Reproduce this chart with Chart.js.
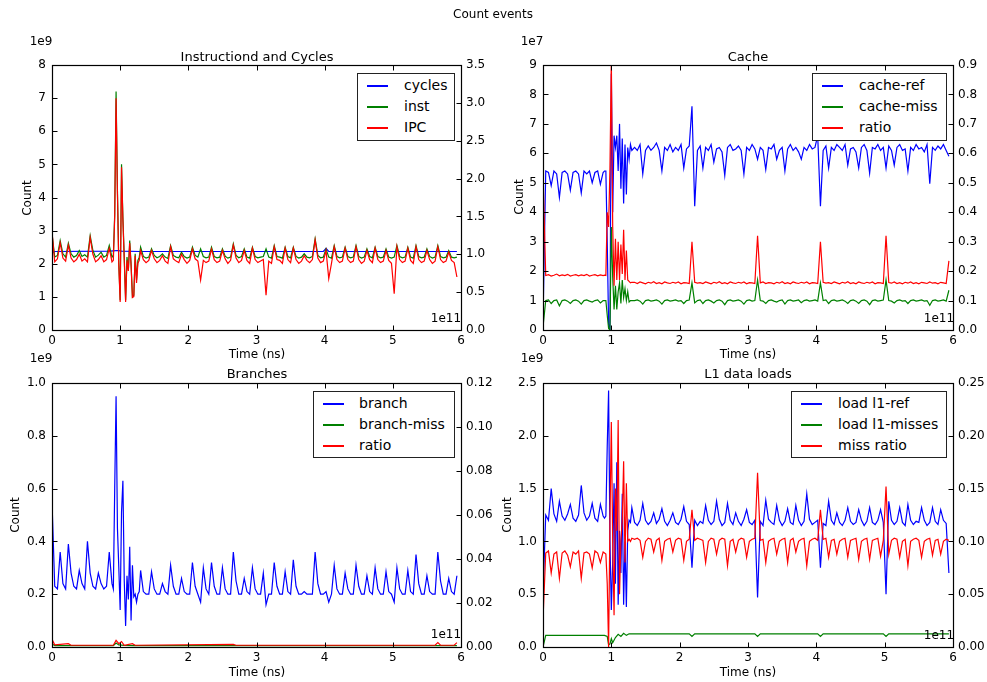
<!DOCTYPE html>
<html>
<head>
<meta charset="utf-8">
<title>Count events</title>
<script src="https://cdn.jsdelivr.net/npm/chart.js@4.4.1/dist/chart.umd.min.js"></script>
<style>
  body { margin: 0; background: #fff; font-family: "DejaVu Sans", sans-serif; color: #000; }
  #page { position: relative; width: 987px; height: 682px; overflow: hidden; }
  canvas { position: absolute; left: 0; top: 0; }
  .lbl { position: absolute; font-size: 12px; line-height: 1; white-space: nowrap; transform: translate(-50%, -50%); }
  .lbl.ttl { font-size: 13px; }
  .lbl.ylab { transform: translate(-50%, -50%) rotate(-90deg); }
  .legend { position: absolute; box-sizing: border-box; border: 1px solid #222; background: #fff; }
  .legend .sw { position: absolute; height: 2px; }
  .legend .tx { position: absolute; font-size: 14px; line-height: 1; white-space: nowrap; }
</style>
</head>
<body>
<div id="page">
  <canvas id="cInst" width="987" height="682"></canvas>
  <canvas id="cCache" width="987" height="682"></canvas>
  <canvas id="cBranch" width="987" height="682"></canvas>
  <canvas id="cL1" width="987" height="682"></canvas>
</div>
<script>
/* time axis, units of 1e11 ns: coarse, dense around the start-up burst, then coarse */
const T = [
  0,0.04,0.08,0.12,0.16,0.2,0.24,0.28,0.32,0.36,0.4,0.44,0.48,0.52,0.56,0.6,0.64,0.68,0.72,0.76,0.8,0.84,0.88,
  0.9,0.92,0.94,0.96,0.98,1,1.02,1.04,1.06,1.08,1.1,1.12,1.14,1.16,1.18,1.2,1.22,1.24,1.26,1.28,1.3,
  1.34,1.38,1.42,1.46,1.5,1.54,1.58,1.62,1.66,1.7,1.74,1.78,1.82,1.86,1.9,1.94,1.98,2.02,2.06,2.1,2.14,2.18,2.22,2.26,2.3,
  2.34,2.38,2.42,2.46,2.5,2.54,2.58,2.62,2.66,2.7,2.74,2.78,2.82,2.86,2.9,2.94,2.98,3.02,3.06,3.1,3.14,3.18,3.22,3.26,3.3,
  3.34,3.38,3.42,3.46,3.5,3.54,3.58,3.62,3.66,3.7,3.74,3.78,3.82,3.86,3.9,3.94,3.98,4.02,4.06,4.1,4.14,4.18,4.22,4.26,4.3,
  4.34,4.38,4.42,4.46,4.5,4.54,4.58,4.62,4.66,4.7,4.74,4.78,4.82,4.86,4.9,4.94,4.98,5.02,5.06,5.1,5.14,5.18,5.22,5.26,5.3,
  5.34,5.38,5.42,5.46,5.5,5.54,5.58,5.62,5.66,5.7,5.74,5.78,5.82,5.86,5.9,5.94
];

// --- Instructiond and Cycles (counts 1e9, IPC on right) ---
const cycT = [0,0.04,0.84,0.9,0.96,1.02,1.3,3.98,4.02,4.06,5.94];
const cycles = [2.33,2.37,2.38,2.39,2.4,2.38,2.37,2.37,2.46,2.37,2.37];
const inst = [
  2.9,2.2,2.25,2.7,2.3,2.2,2.62,2.3,2.2,2.25,2.4,2.22,2.27,2.2,2.85,2.4,2.2,2.26,2.35,2.2,2.25,2.55,2.2,
  2.25,3.5,7.2,4.2,2.0,0.9,5.0,3.4,2.2,0.9,2.2,1.8,2.7,2.0,1.0,1.05,2.3,1.5,2.1,2.2,2.5,
  2.22,2.17,2.2,2.45,2.25,2.18,2.22,2.3,2.2,2.16,2.55,2.25,2.2,2.18,2.35,2.22,2.17,2.2,2.5,2.25,2.2,2.45,2.22,2.18,2.2,
  2.5,2.22,2.18,2.2,2.45,2.23,2.17,2.2,2.6,2.25,2.18,2.22,2.45,2.2,2.17,2.5,2.22,2.18,2.2,2.22,2.45,2.2,2.17,2.55,2.22,
  2.2,2.17,2.5,2.22,2.18,2.5,2.22,2.17,2.2,2.3,2.2,2.18,2.22,2.75,2.25,2.18,2.2,2.45,2.2,2.17,2.55,2.22,2.18,2.2,2.5,
  2.22,2.18,2.2,2.55,2.22,2.17,2.2,2.45,2.22,2.18,2.5,2.22,2.18,2.2,2.45,2.2,2.17,2.2,2.55,2.22,2.18,2.2,2.5,2.2,2.17,
  2.55,2.22,2.18,2.2,2.45,2.22,2.17,2.2,2.55,2.22,2.18,2.2,2.4,2.2,2.18,2.2
];
const ipc = [
  1.3,0.9,0.94,1.15,0.95,0.91,1.12,0.95,0.9,0.93,1.0,0.91,0.94,0.9,1.22,1.0,0.9,0.93,0.98,0.9,0.93,1.08,0.9,
  0.92,1.5,3.06,1.8,0.85,0.37,2.15,1.45,0.92,0.37,0.92,0.78,1.15,0.85,0.43,0.44,0.98,0.62,0.88,0.92,1.05,
  0.93,0.89,0.92,1.05,0.94,0.89,0.92,0.98,0.91,0.88,1.1,0.94,0.91,0.89,1.0,0.93,0.88,0.92,1.07,0.94,0.91,0.66,0.92,0.89,0.91,
  1.07,0.93,0.89,0.91,1.05,0.94,0.88,0.92,1.12,0.95,0.89,0.92,1.05,0.92,0.88,1.08,0.93,0.89,0.91,0.93,0.46,0.91,0.88,1.1,0.93,
  0.92,0.88,1.08,0.93,0.89,1.08,0.93,0.88,0.91,0.98,0.92,0.89,0.93,1.19,0.95,0.89,0.91,1.05,0.68,0.88,1.1,0.93,0.89,0.91,1.08,
  0.93,0.89,0.91,1.1,0.93,0.88,0.91,1.05,0.93,0.89,1.08,0.93,0.89,0.91,1.05,0.92,0.88,0.48,1.1,0.93,0.89,0.91,1.08,0.92,0.88,
  1.1,0.93,0.89,0.91,1.05,0.93,0.88,0.91,1.1,0.93,0.89,0.91,1.03,0.92,0.89,0.7
];

// --- Cache (counts 1e7, ratio on right) ---
const cacheRef = [
  0.3,5.4,5.35,4.9,5.4,5.3,4.5,5.35,5.4,5.3,4.75,5.35,5.4,5.3,4.65,5.4,5.3,5.4,5.0,5.35,5.4,4.95,5.35,
  5.4,5.4,3.0,0.2,0.0,8.7,4.0,6.6,6.2,6.6,5.4,7.0,4.8,6.5,4.3,6.3,4.6,6.2,5.8,6.3,6.1,
  6.2,6.1,6.3,5.3,6.1,6.25,6.1,6.2,6.35,6.1,5.4,6.2,6.1,6.3,6.05,6.2,6.1,6.3,5.5,6.15,6.25,7.6,4.2,6.1,6.25,
  5.5,6.2,6.1,6.3,5.7,6.15,6.2,6.05,5.25,6.2,6.3,6.1,6.15,6.25,6.1,5.3,6.2,6.1,6.3,6.15,5.8,6.2,6.1,5.45,6.2,
  6.15,6.3,5.8,6.1,6.2,5.4,6.15,6.3,6.1,6.2,6.05,5.8,6.2,6.1,6.3,6.15,6.2,6.6,4.2,6.1,6.25,5.5,6.2,6.1,6.3,
  6.2,6.1,6.3,5.6,6.15,6.2,6.05,5.5,6.2,6.3,6.1,5.33,6.2,6.15,6.3,6.1,6.2,5.5,6.25,6.1,5.6,6.2,6.3,6.1,6.15,
  5.4,6.2,6.1,6.3,6.15,6.2,6.05,6.3,4.97,6.2,6.1,6.25,6.15,6.3,6.1,5.9
];
const cacheMiss = [
  0.1,1.0,1.02,0.9,1.0,1.02,0.82,1.0,1.02,0.98,0.9,1.0,1.02,0.98,0.88,1.0,1.02,0.98,0.95,1.0,1.02,0.92,1.0,
  1.0,1.0,0.5,0.05,0.0,3.5,1.8,0.7,1.5,0.7,1.3,1.6,0.9,1.7,1.1,1.4,1.0,1.3,0.95,1.0,1.0,
  1.0,1.02,0.98,0.88,1.0,1.02,0.98,1.0,1.02,0.98,0.88,1.0,1.02,0.98,1.0,1.02,0.98,1.0,0.9,1.0,1.02,1.6,0.92,1.0,1.02,
  0.9,1.0,1.02,0.98,0.92,1.0,1.02,0.98,0.86,1.0,1.02,0.98,1.0,1.02,0.98,0.88,1.0,1.02,0.98,1.0,1.7,1.0,0.98,0.9,1.0,
  1.02,0.98,0.95,1.0,1.02,0.88,1.0,1.02,0.98,1.0,1.02,0.93,1.0,1.02,0.98,1.0,1.02,0.98,1.6,1.0,1.02,0.9,1.0,1.02,0.98,
  1.0,1.02,0.98,0.9,1.0,1.02,0.98,0.9,1.0,1.02,0.98,0.86,1.0,1.02,0.98,1.0,1.02,1.7,1.0,0.98,0.92,1.0,1.02,0.98,1.0,
  0.9,1.0,1.02,0.98,1.0,1.02,0.98,1.0,0.84,1.0,1.02,0.98,1.0,1.02,0.98,1.35
];
const cacheRatio = [
  0.53,0.185,0.188,0.183,0.186,0.19,0.184,0.187,0.185,0.189,0.183,0.186,0.188,0.184,0.187,0.185,0.189,0.183,0.186,0.188,0.184,0.187,0.185,
  0.186,0.185,0.4,0.35,0.55,0.92,0.35,0.15,0.31,0.17,0.3,0.17,0.29,0.19,0.34,0.17,0.27,0.17,0.165,0.16,0.162,
  0.162,0.158,0.163,0.16,0.157,0.162,0.159,0.164,0.158,0.161,0.157,0.163,0.16,0.158,0.162,0.159,0.163,0.157,0.161,0.16,0.158,0.3,0.162,0.159,0.161,
  0.158,0.163,0.16,0.157,0.162,0.159,0.164,0.158,0.161,0.157,0.163,0.16,0.158,0.162,0.159,0.163,0.157,0.161,0.16,0.158,0.32,0.16,0.163,0.158,0.161,
  0.16,0.157,0.162,0.159,0.164,0.158,0.161,0.157,0.163,0.16,0.158,0.162,0.159,0.163,0.157,0.161,0.16,0.158,0.3,0.162,0.159,0.161,0.158,0.163,0.16,
  0.157,0.162,0.159,0.164,0.158,0.161,0.157,0.163,0.16,0.158,0.162,0.159,0.163,0.157,0.161,0.16,0.158,0.32,0.161,0.159,0.163,0.158,0.161,0.157,0.162,
  0.159,0.163,0.158,0.161,0.157,0.162,0.16,0.158,0.163,0.159,0.161,0.157,0.162,0.16,0.158,0.235
];

// --- Branches (counts 1e9, ratio on right) ---
const branch = [
  0.55,0.23,0.22,0.36,0.24,0.22,0.39,0.28,0.23,0.22,0.29,0.24,0.22,0.4,0.28,0.23,0.22,0.28,0.24,0.22,0.23,0.36,0.24,
  0.22,0.6,0.95,0.45,0.3,0.14,0.51,0.63,0.25,0.08,0.27,0.18,0.38,0.1,0.31,0.19,0.2,0.17,0.2,0.21,0.29,
  0.21,0.2,0.2,0.285,0.22,0.2,0.2,0.24,0.21,0.2,0.31,0.23,0.2,0.2,0.26,0.21,0.2,0.2,0.32,0.23,0.2,0.17,0.3,0.22,0.2,
  0.32,0.23,0.2,0.2,0.3,0.22,0.2,0.2,0.36,0.25,0.2,0.2,0.26,0.21,0.2,0.3,0.22,0.2,0.2,0.28,0.16,0.2,0.2,0.32,0.23,
  0.2,0.2,0.285,0.21,0.2,0.33,0.23,0.2,0.2,0.21,0.2,0.2,0.2,0.36,0.24,0.2,0.2,0.21,0.17,0.2,0.31,0.22,0.2,0.2,0.28,
  0.22,0.2,0.2,0.31,0.23,0.2,0.2,0.27,0.21,0.2,0.3,0.22,0.2,0.2,0.285,0.21,0.2,0.17,0.3,0.22,0.2,0.2,0.29,0.21,0.2,
  0.35,0.24,0.2,0.2,0.27,0.21,0.2,0.2,0.36,0.25,0.2,0.2,0.26,0.21,0.2,0.27
];
const branchMissT = [0,0.04,0.9,0.94,0.98,1.06,1.2,5.94];
const branchMiss = [0.012,0.005,0.005,0.015,0.008,0.006,0.005,0.005];
const branchRatioT = [0,0.04,0.24,0.28,0.9,0.94,0.98,1.02,1.06,1.18,1.22,2.66,2.7,5.62,5.66,5.7,5.9,5.94];
const branchRatio = [0.0035,0.001,0.0015,0.0008,0.0008,0.003,0.0015,0.0025,0.0008,0.0015,0.0008,0.0012,0.0008,0.0008,0.002,0.0008,0.0008,0.002];

// --- L1 data loads (counts 1e9, miss ratio on right) ---
const l1Ref = [
  0.5,1.25,1.2,1.5,1.26,1.19,1.38,1.24,1.2,1.26,1.35,1.22,1.19,1.25,1.53,1.27,1.2,1.24,1.36,1.22,1.19,1.35,1.24,
  1.22,1.24,1.9,2.43,1.0,0.35,0.8,1.55,0.6,1.75,0.4,1.1,0.7,1.45,0.4,1.0,0.38,1.1,1.2,1.18,1.32,
  1.18,1.15,1.2,1.36,1.2,1.16,1.19,1.27,1.17,1.21,1.31,1.19,1.15,1.2,1.27,1.18,1.16,1.21,1.33,1.19,1.16,0.75,1.2,1.15,1.19,
  1.17,1.34,1.2,1.16,1.19,1.38,1.21,1.15,1.18,1.36,1.2,1.16,1.27,1.19,1.15,1.21,1.3,1.18,1.16,1.2,0.47,1.19,1.15,1.39,1.21,
  1.18,1.16,1.34,1.2,1.15,1.19,1.31,1.18,1.16,1.34,1.2,1.15,1.19,1.45,1.21,1.16,1.18,1.2,0.75,1.17,1.15,1.38,1.2,1.16,1.27,
  1.18,1.15,1.2,1.32,1.19,1.16,1.18,1.3,1.2,1.15,1.19,1.32,1.18,1.16,1.2,1.3,1.18,0.5,1.38,1.2,1.16,1.19,1.32,1.18,1.15,
  1.35,1.2,1.16,1.19,1.18,1.32,1.2,1.15,1.18,1.32,1.19,1.16,1.3,1.2,1.17,0.7
];
const l1MissT = [0,0.04,0.9,0.94,0.96,0.98,1,1.02,1.06,1.1,1.14,1.18,1.22,1.26,1.5,2.14,2.18,2.22,3.1,3.14,3.18,4.02,4.06,4.1,4.98,5.02,5.06,5.94];
const l1Miss = [0,0.11,0.11,0.1,0.02,0.03,0.08,0.04,0.09,0.12,0.1,0.13,0.11,0.125,0.125,0.125,0.1,0.125,0.125,0.1,0.125,0.125,0.1,0.125,0.125,0.1,0.125,0.125];
const l1Ratio = [
  0.026,0.089,0.091,0.07,0.088,0.09,0.065,0.089,0.091,0.087,0.076,0.09,0.088,0.091,0.065,0.089,0.09,0.088,0.075,0.091,0.089,0.08,0.09,
  0.089,0.088,0.06,0.0,0.12,0.213,0.1,0.03,0.15,0.11,0.215,0.05,0.1,0.12,0.176,0.08,0.155,0.1,0.102,0.1,0.103,
  0.102,0.103,0.101,0.085,0.1,0.103,0.102,0.09,0.101,0.103,0.082,0.1,0.102,0.103,0.09,0.101,0.103,0.102,0.082,0.1,0.102,0.13,0.101,0.103,0.102,
  0.101,0.08,0.1,0.103,0.102,0.088,0.101,0.103,0.102,0.077,0.1,0.102,0.09,0.101,0.103,0.102,0.085,0.1,0.102,0.103,0.165,0.101,0.102,0.08,0.1,
  0.102,0.103,0.088,0.1,0.102,0.103,0.08,0.101,0.103,0.09,0.1,0.102,0.103,0.077,0.1,0.102,0.103,0.101,0.13,0.102,0.103,0.085,0.101,0.102,0.088,
  0.1,0.102,0.103,0.085,0.101,0.102,0.103,0.083,0.1,0.102,0.103,0.083,0.101,0.102,0.103,0.086,0.101,0.152,0.088,0.101,0.103,0.102,0.085,0.1,0.102,
  0.077,0.1,0.102,0.103,0.101,0.085,0.1,0.102,0.103,0.087,0.101,0.102,0.088,0.1,0.102,0.101
];

const BLUE = "#0000ff", GREEN = "#008000", RED = "#ff0000";
const FONT = { family: "DejaVu Sans", size: 12 };

// matplotlib-style frame with inward ticks on all four sides
const frameTicks = {
  id: "frameTicks",
  afterDraw(chart) {
    const { ctx, chartArea: a, scales } = chart;
    const L = Math.round(a.left) + 0.5, R = Math.round(a.right) + 0.5;
    const Tp = Math.round(a.top) + 0.5, B = Math.round(a.bottom) + 0.5;
    ctx.save();
    ctx.strokeStyle = "#000";
    ctx.lineWidth = 1.2;
    ctx.strokeRect(L, Tp, R - L, B - Tp);
    ctx.lineWidth = 1;
    ctx.beginPath();
    scales.x.ticks.forEach(t => {
      const px = Math.round(scales.x.getPixelForValue(t.value)) + 0.5;
      ctx.moveTo(px, B); ctx.lineTo(px, B - 5);
      ctx.moveTo(px, Tp); ctx.lineTo(px, Tp + 5);
    });
    scales.y.ticks.forEach(t => {
      const py = Math.round(scales.y.getPixelForValue(t.value)) + 0.5;
      ctx.moveTo(L, py); ctx.lineTo(L + 5, py);
    });
    scales.y2.ticks.forEach(t => {
      const py = Math.round(scales.y2.getPixelForValue(t.value)) + 0.5;
      ctx.moveTo(R, py); ctx.lineTo(R - 5, py);
    });
    ctx.stroke();
    ctx.restore();
  }
};

function pts(ts, vs) { return ts.map((t, i) => ({ x: t, y: vs[i] })); }

function makeChart(id, box, series, left, right) {
  new Chart(document.getElementById(id), {
    type: "line",
    data: {
      datasets: series.map((s, i) => ({
        label: s.label,
        data: pts(s.t, s.v),
        yAxisID: s.axis,
        borderColor: s.color,
        borderWidth: 1.2,
        pointRadius: 0,
        tension: 0,
        fill: false,
        order: series.length - i
      }))
    },
    options: {
      responsive: false,
      animation: false,
      devicePixelRatio: 1,
      events: [],
      layout: { padding: { left: box.l - 40, right: 987 - box.r - 40, top: box.t, bottom: 682 - box.b - 20 } },
      plugins: { legend: { display: false }, tooltip: { enabled: false } },
      scales: {
        x: {
          type: "linear", min: 0, max: 6,
          ticks: { stepSize: 1, padding: 4, color: "#000", font: FONT, maxRotation: 0, autoSkip: false },
          grid: { display: false, drawTicks: false },
          border: { display: false },
          afterFit: s => { s.height = 20; }
        },
        y: {
          position: "left", min: 0, max: left.max,
          ticks: { stepSize: left.step, padding: 6, color: "#000", font: FONT, callback: v => v.toFixed(left.dec) },
          grid: { display: false, drawTicks: false },
          border: { display: false },
          afterFit: s => { s.width = 40; }
        },
        y2: {
          position: "right", min: 0, max: right.max,
          ticks: { stepSize: right.step, padding: 5, color: "#000", font: FONT, callback: v => v.toFixed(right.dec) },
          grid: { display: false, drawTicks: false },
          border: { display: false },
          afterFit: s => { s.width = 40; }
        }
      }
    },
    plugins: [frameTicks]
  });
}

makeChart("cInst", { l: 52, r: 461, t: 65, b: 330 }, [
  { label: "cycles", t: cycT, v: cycles, axis: "y", color: BLUE },
  { label: "inst", t: T, v: inst, axis: "y", color: GREEN },
  { label: "IPC", t: T, v: ipc, axis: "y2", color: RED }
], { max: 8, step: 1, dec: 0 }, { max: 3.5, step: 0.5, dec: 1 });

makeChart("cCache", { l: 543, r: 953, t: 65, b: 330 }, [
  { label: "cache-ref", t: T, v: cacheRef, axis: "y", color: BLUE },
  { label: "cache-miss", t: T, v: cacheMiss, axis: "y", color: GREEN },
  { label: "ratio", t: T, v: cacheRatio, axis: "y2", color: RED }
], { max: 9, step: 1, dec: 0 }, { max: 0.9, step: 0.1, dec: 1 });

makeChart("cBranch", { l: 52, r: 461, t: 383, b: 647 }, [
  { label: "branch", t: T, v: branch, axis: "y", color: BLUE },
  { label: "branch-miss", t: branchMissT, v: branchMiss, axis: "y", color: GREEN },
  { label: "ratio", t: branchRatioT, v: branchRatio, axis: "y2", color: RED }
], { max: 1.0, step: 0.2, dec: 1 }, { max: 0.12, step: 0.02, dec: 2 });

makeChart("cL1", { l: 543, r: 953, t: 383, b: 647 }, [
  { label: "load l1-ref", t: T, v: l1Ref, axis: "y", color: BLUE },
  { label: "load l1-misses", t: l1MissT, v: l1Miss, axis: "y", color: GREEN },
  { label: "miss ratio", t: T, v: l1Ratio, axis: "y2", color: RED }
], { max: 2.5, step: 0.5, dec: 1 }, { max: 0.25, step: 0.05, dec: 2 });

// text labels
const page = document.getElementById("page");
function place(text, x, y, cls) {
  const d = document.createElement("div");
  d.className = "lbl" + (cls ? " " + cls : "");
  d.textContent = text;
  d.style.left = x + "px";
  d.style.top = y + "px";
  page.appendChild(d);
}
place("Count events", 493, 14);
[["Instructiond and Cycles", 257, 56], ["Cache", 748, 56], ["Branches", 257, 373], ["L1 data loads", 748, 373]]
  .forEach(([s, x, y]) => place(s, x, y, "ttl"));
[[257, 354], [748, 354], [257, 672], [748, 672]].forEach(([x, y]) => place("Time (ns)", x, y));
[[27, 198], [519, 197], [15, 515], [507, 515]].forEach(([x, y]) => place("Count", x, y, "ylab"));
[["1e9", 41, 41], ["1e7", 532, 41], ["1e9", 41, 358], ["1e9", 532, 358]].forEach(([s, x, y]) => place(s, x, y));
[[446, 318], [939, 318], [446, 634], [939, 635]].forEach(([x, y]) => place("1e11", x, y));

// legends
function legend(x, y, w, h, textX, items) {
  const box = document.createElement("div");
  box.className = "legend";
  Object.assign(box.style, { left: x + "px", top: y + "px", width: w + "px", height: h + "px" });
  items.forEach(([label, color], i) => {
    const cy = 11 + i * 21;
    const sw = document.createElement("div");
    sw.className = "sw";
    Object.assign(sw.style, { left: "9px", width: "21px", top: cy + "px", background: color });
    const tx = document.createElement("div");
    tx.className = "tx";
    tx.textContent = label;
    Object.assign(tx.style, { left: textX + "px", top: (cy - 7) + "px" });
    box.appendChild(sw);
    box.appendChild(tx);
  });
  page.appendChild(box);
}
legend(357, 73, 98, 68, 46, [["cycles", BLUE], ["inst", GREEN], ["IPC", RED]]);
legend(812, 73, 135, 68, 46, [["cache-ref", BLUE], ["cache-miss", GREEN], ["ratio", RED]]);
legend(313, 391, 142, 67, 45, [["branch", BLUE], ["branch-miss", GREEN], ["ratio", RED]]);
legend(791, 391, 156, 67, 46, [["load l1-ref", BLUE], ["load l1-misses", GREEN], ["miss ratio", RED]]);
</script>
</body>
</html>
